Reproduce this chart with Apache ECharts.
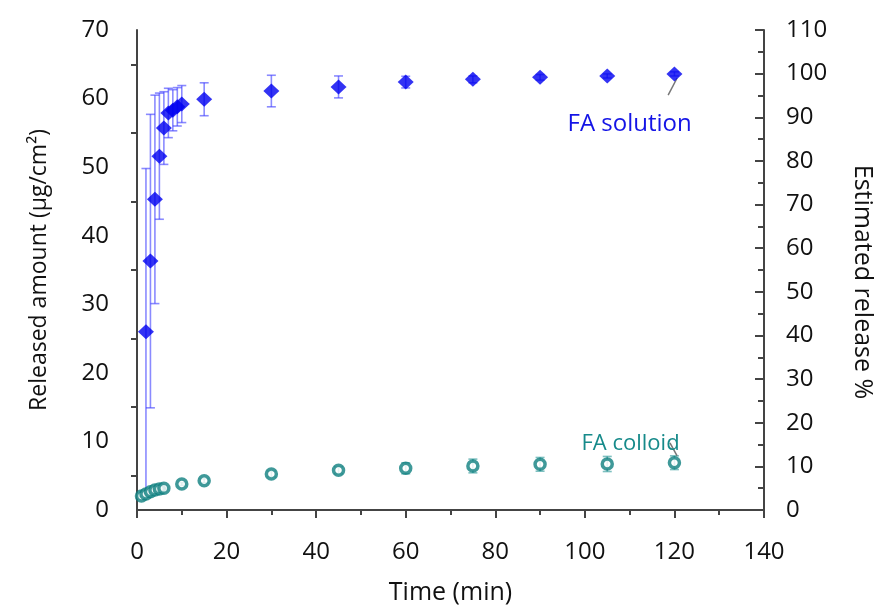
<!DOCTYPE html>
<html>
<head>
<meta charset="utf-8">
<script src="https://cdn.jsdelivr.net/npm/echarts@6/dist/echarts.min.js"></script>
<style>html,body{margin:0;padding:0;background:#fff;}#c{width:883px;height:610px;}</style>
</head>
<body>
<div id="c"></div>
<script>
// ---- data ----
const solTime   = [2, 3, 4, 5, 6, 7, 8, 9, 10, 15, 30, 45, 60, 75, 90, 105, 120];
const solAmount = [26.0, 36.3, 45.3, 51.6, 55.7, 57.9, 58.3, 58.8, 59.2, 59.9, 61.1, 61.7, 62.4, 62.8, 63.1, 63.3, 63.6];
const solErr    = [23.8, 21.4, 15.2, 9.2, 5.3, 3.6, 3.0, 2.8, 2.7, 2.4, 2.3, 1.6, 0.85, 0.5, 0.4, 0.3, 0.3];

const colTime   = [1, 2, 3, 4, 5, 6, 10, 15, 30, 45, 60, 75, 90, 105, 120];
const colAmount = [2.04, 2.33, 2.67, 2.92, 3.06, 3.16, 3.79, 4.27, 5.25, 5.79, 6.08, 6.42, 6.66, 6.71, 6.90];
const colErr    = [0.1, 0.1, 0.1, 0.1, 0.1, 0.1, 0.2, 0.3, 0.4, 0.5, 0.8, 1.0, 1.0, 1.1, 1.0];

const xTicks = [0, 20, 40, 60, 80, 100, 120, 140];
const leftTicks = [0, 10, 20, 30, 40, 50, 60, 70];
const rightTicks = [0, 10, 20, 30, 40, 50, 60, 70, 80, 90, 100, 110];

const labelSolution = 'FA solution';
const labelColloid = 'FA colloid';
const solLabelAt = [110, 56.3];
const colLabelAt = [110.2, 9.7];
const solLeader = [[118.6, 60.5], [120.6, 63.0]];
const colLeader = [[119.0, 9.8], [120.6, 7.9]];

// ---- build ----
const FONT = '"Open Sans", "DejaVu Sans", sans-serif';
const AXIS = '#444';
const solPts = solTime.map((t, i) => [t, solAmount[i]]);
const colPts = colTime.map((t, i) => [t, colAmount[i]]);
const solBars = solTime.map((t, i) => [t, solAmount[i] - solErr[i], solAmount[i] + solErr[i]]);
const colBars = colTime.map((t, i) => [t, colAmount[i] - colErr[i], colAmount[i] + colErr[i]]);

function errRender(color, width) {
  return function (params, api) {
    const x = api.value(0);
    const lo = api.coord([x, api.value(1)]);
    const hi = api.coord([x, api.value(2)]);
    const hw = 4.5;
    const st = { stroke: color, lineWidth: width };
    return {
      type: 'group',
      children: [
        { type: 'line', shape: { x1: lo[0], y1: lo[1], x2: hi[0], y2: hi[1] }, style: st },
        { type: 'line', shape: { x1: lo[0] - hw, y1: lo[1], x2: lo[0] + hw, y2: lo[1] }, style: st },
        { type: 'line', shape: { x1: hi[0] - hw, y1: hi[1], x2: hi[0] + hw, y2: hi[1] }, style: st }
      ]
    };
  };
}

const chart = echarts.init(document.getElementById('c'), null, { renderer: 'canvas' });
chart.setOption({
  backgroundColor: '#ffffff',
  animation: false,
  textStyle: { fontFamily: FONT },
  grid: { left: 137, right: 106, top: 30, bottom: 100, containLabel: false },
  xAxis: {
    type: 'value', min: 0, max: 140, interval: 20,
    name: 'Time (min)', nameLocation: 'middle', nameGap: 70,
    nameTextStyle: { fontSize: 25, color: '#111', fontFamily: FONT },
    axisLine: { show: true, onZero: false, lineStyle: { color: AXIS, width: 2 } },
    axisTick: { show: true, length: 8, lineStyle: { color: AXIS, width: 2 } },
    minorTick: { show: true, splitNumber: 2, length: 5, lineStyle: { color: AXIS, width: 2 } },
    splitLine: { show: false },
    axisLabel: { fontSize: 24, color: '#111', margin: 30, fontFamily: FONT,
      formatter: v => xTicks.includes(v) ? String(v) : '' }
  },
  yAxis: [
    {
      type: 'value', min: 0, max: 70, interval: 10, position: 'left',
      name: 'Released amount (μg/cm²)', nameLocation: 'middle', nameGap: 86, nameRotate: 90,
      nameTextStyle: { fontSize: 23, color: '#111', fontFamily: FONT },
      axisLine: { show: true, onZero: false, lineStyle: { color: AXIS, width: 2 } },
      axisTick: { show: false },
      minorTick: { show: true, splitNumber: 2, length: 6, lineStyle: { color: AXIS, width: 2 } },
      splitLine: { show: false },
      axisLabel: { fontSize: 24, color: '#111', margin: 28, fontFamily: FONT, padding: [8, 0, 0, 0],
        formatter: v => leftTicks.includes(v) ? String(v) : '' }
    },
    {
      type: 'value', min: 0, max: 110, interval: 10, position: 'right',
      name: 'Estimated release %', nameLocation: 'middle', nameGap: 86, nameRotate: -90,
      nameTextStyle: { fontSize: 25, color: '#111', fontFamily: FONT, padding: [0, 0, 0, 24] },
      axisLine: { show: true, onZero: false, lineStyle: { color: AXIS, width: 2 } },
      axisTick: { show: true, inside: true, length: 9, lineStyle: { color: AXIS, width: 2 } },
      minorTick: { show: true, splitNumber: 2, length: 6, lineStyle: { color: AXIS, width: 2 } },
      splitLine: { show: false },
      axisLabel: { fontSize: 24, color: '#111', margin: 22, fontFamily: FONT, padding: [4, 0, 0, 0],
        formatter: v => rightTicks.includes(v) ? String(v) : '' }
    }
  ],
  series: [
    {
      type: 'custom', name: 'sol-err', xAxisIndex: 0, yAxisIndex: 0, z: 2,
      renderItem: errRender('rgba(60,60,255,0.6)', 1.6),
      encode: { x: 0, y: [1, 2] }, data: solBars, silent: true
    },
    {
      type: 'custom', name: 'col-err', xAxisIndex: 0, yAxisIndex: 0, z: 2,
      renderItem: errRender('rgba(20,140,140,0.55)', 1.6),
      encode: { x: 0, y: [1, 2] }, data: colBars, silent: true
    },
    {
      type: 'scatter', name: labelSolution, yAxisIndex: 0, z: 5,
      symbol: 'diamond', symbolSize: [16, 15],
      itemStyle: { color: '#0000f0' },
      data: solPts,
      markLine: {
        silent: true, symbol: 'none', animation: false,
        lineStyle: { color: '#777', width: 1.5, type: 'solid' },
        label: { show: false },
        data: [[{ coord: solLeader[0] }, { coord: solLeader[1] }]]
      },
      markPoint: {
        silent: true, symbol: 'circle', symbolSize: 0,
        data: [{ coord: solLabelAt, value: 0,
          label: { show: true, position: 'inside', formatter: labelSolution,
            fontSize: 24, color: '#1414e6', fontFamily: FONT } }]
      }
    },
    {
      type: 'scatter', name: labelColloid, yAxisIndex: 0, z: 5,
      symbol: 'circle', symbolSize: 10,
      itemStyle: { color: '#ffffff', borderColor: '#0f7f7f', borderWidth: 3.5 },
      data: colPts,
      markLine: {
        silent: true, symbol: 'none', animation: false,
        lineStyle: { color: '#777', width: 1.5, type: 'solid' },
        label: { show: false },
        data: [[{ coord: colLeader[0] }, { coord: colLeader[1] }]]
      },
      markPoint: {
        silent: true, symbol: 'circle', symbolSize: 0,
        data: [{ coord: colLabelAt, value: 0,
          label: { show: true, position: 'inside', formatter: labelColloid,
            fontSize: 22, color: '#168a8a', fontFamily: FONT } }]
      }
    }
  ]
});
</script>
</body>
</html>
